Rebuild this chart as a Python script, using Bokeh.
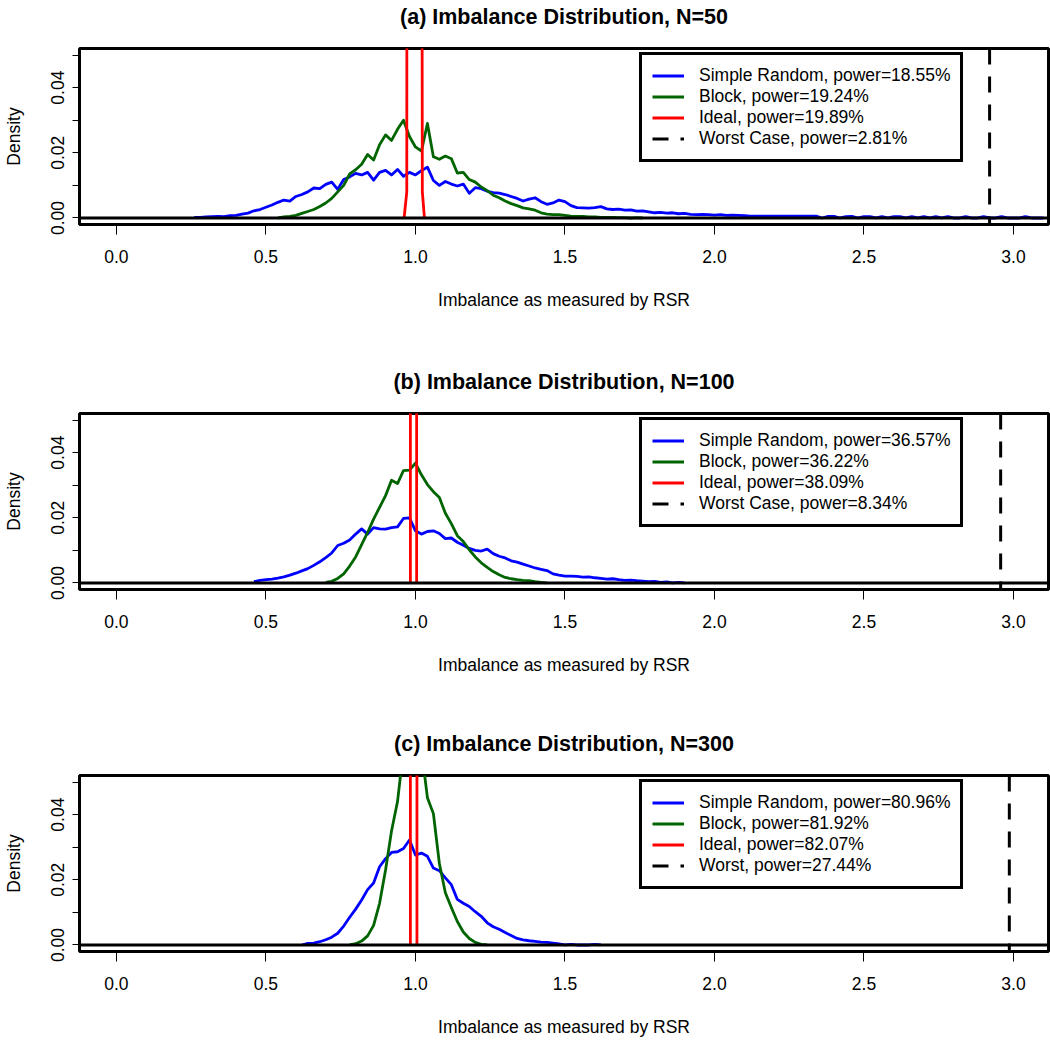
import numpy as np
from bokeh.plotting import figure
from bokeh.models import (Range1d, FixedTicker, NumeralTickFormatter, Span, Legend,
                          LegendItem, Title)
from bokeh.layouts import column
from bokeh.embed import file_html
from bokeh.resources import INLINE

FONT = "Liberation Sans"
BIN = 0.02  # histogram bin spacing of the read-off density curves

titles = ["(a) Imbalance Distribution, N=50",
          "(b) Imbalance Distribution, N=100",
          "(c) Imbalance Distribution, N=300"]
x_label = "Imbalance as measured by RSR"
y_label = "Density"
x_ticks = [0.0, 0.5, 1.0, 1.5, 2.0, 2.5, 3.0]
y_ticks = [0.00, 0.02, 0.04]
y_minor_ticks = [0.01, 0.03, 0.05]

# ---------------- panel (a) N=50 ----------------
a_random_start = 0.26
a_random = [0.0002, 0.0002, 0.0003, 0.0004, 0.0005, 0.0004, 0.0007, 0.0008, 0.0012, 0.0015,
            0.0022, 0.0026, 0.0033, 0.0040, 0.0048, 0.0055, 0.0052, 0.0066, 0.0072, 0.0080,
            0.0092, 0.0090, 0.0103, 0.0110, 0.0088, 0.0118, 0.0126, 0.0137, 0.0132, 0.0140,
            0.0116, 0.0140, 0.0146, 0.0132, 0.0149, 0.0128, 0.0140, 0.0132, 0.0145, 0.0156,
            0.0115, 0.0100, 0.0112, 0.0104, 0.0098, 0.0104, 0.0076, 0.0093, 0.0090, 0.0082,
            0.0078, 0.0076, 0.0072, 0.0066, 0.0060, 0.0052, 0.0058, 0.0062, 0.0050, 0.0042,
            0.0046, 0.0055, 0.0050, 0.0038, 0.0032, 0.0031, 0.0030, 0.0032, 0.0035, 0.0028,
            0.0026, 0.0027, 0.0024, 0.0025, 0.0021, 0.0022, 0.0019, 0.0016, 0.0017, 0.0015,
            0.0016, 0.0013, 0.0014, 0.0011, 0.0010, 0.0011, 0.0010, 0.0009, 0.0010, 0.0008,
            0.0009, 0.0008, 0.0007, 0.0006, 0.0006, 0.0006, 0.0006, 0.0006, 0.0006, 0.0006,
            0.0006, 0.0006, 0.0006, 0.0006, 0.0006, 0.0000, 0.0005, 0.0005, 0.0000, 0.0004,
            0.0005, 0.0000, 0.0004, 0.0004, 0.0000, 0.0004, 0.0000, 0.0004, 0.0004, 0.0000,
            0.0004, 0.0000, 0.0004, 0.0000, 0.0004, 0.0000, 0.0004, 0.0000, 0.0000, 0.0004,
            0.0000, 0.0000, 0.0004, 0.0000, 0.0000, 0.0004, 0.0000, 0.0000, 0.0000, 0.0004,
            0.0000, 0.0000, 0.0000]
a_block_start = 0.54
a_block = [0.0000, 0.0003, 0.0005, 0.0008, 0.0014, 0.0020, 0.0026, 0.0035, 0.0046, 0.0060,
           0.0080, 0.0100, 0.0135, 0.0148, 0.0165, 0.0195, 0.0178, 0.0225, 0.0255, 0.0238,
           0.0272, 0.0300, 0.0250, 0.0218, 0.0205, 0.0290, 0.0188, 0.0180, 0.0190, 0.0182,
           0.0138, 0.0140, 0.0118, 0.0110, 0.0095, 0.0084, 0.0070, 0.0062, 0.0052, 0.0044,
           0.0038, 0.0031, 0.0028, 0.0024, 0.0016, 0.0012, 0.0010, 0.0010, 0.0008, 0.0006,
           0.0005, 0.0005, 0.0003, 0.0003, 0.0002, 0.0002, 0.0002, 0.0001, 0.0001, 0.0000,
           0.0001, 0.0000]
a_ideal_x = [0.962, 0.971, 0.973, 1.017, 1.023, 1.030]
a_ideal_y = [0.0, 0.008, 0.40, 0.40, 0.008, 0.0]
a_worst = 2.92
a_labels = ["Simple Random, power=18.55%", "Block, power=19.24%",
            "Ideal, power=19.89%", "Worst Case, power=2.81%"]

# ---------------- panel (b) N=100 ----------------
b_random_start = 0.46
b_random = [0.0004, 0.0008, 0.0010, 0.0012, 0.0015, 0.0019, 0.0024, 0.0030, 0.0037, 0.0044,
            0.0054, 0.0065, 0.0078, 0.0092, 0.0115, 0.0122, 0.0132, 0.0150, 0.0166, 0.0150,
            0.0170, 0.0166, 0.0165, 0.0170, 0.0172, 0.0198, 0.0200, 0.0160, 0.0150, 0.0158,
            0.0160, 0.0152, 0.0136, 0.0138, 0.0125, 0.0116, 0.0106, 0.0100, 0.0098, 0.0104,
            0.0090, 0.0082, 0.0077, 0.0068, 0.0064, 0.0058, 0.0052, 0.0046, 0.0042, 0.0038,
            0.0028, 0.0024, 0.0021, 0.0021, 0.0020, 0.0018, 0.0019, 0.0016, 0.0014, 0.0012,
            0.0013, 0.0010, 0.0008, 0.0009, 0.0007, 0.0006, 0.0004, 0.0005, 0.0002, 0.0003,
            0.0000, 0.0002, 0.0000]
b_block_start = 0.70
b_block = [0.0002, 0.0005, 0.0014, 0.0028, 0.0052, 0.0080, 0.0118, 0.0155, 0.0196, 0.0232,
           0.0268, 0.0315, 0.0305, 0.0345, 0.0346, 0.0368, 0.0332, 0.0302, 0.0280, 0.0262,
           0.0214, 0.0182, 0.0145, 0.0127, 0.0102, 0.0080, 0.0062, 0.0048, 0.0035, 0.0025,
           0.0017, 0.0013, 0.0010, 0.0008, 0.0007, 0.0004, 0.0002, 0.0000]
b_ideal_x = [0.983, 0.983, 1.004, 1.004]
b_ideal_y = [0.0, 0.40, 0.40, 0.0]
b_worst = 2.957
b_labels = ["Simple Random, power=36.57%", "Block, power=36.22%",
            "Ideal, power=38.09%", "Worst Case, power=8.34%"]

# ---------------- panel (c) N=300 ----------------
c_random_start = 0.62
c_random = [0.0000, 0.0005, 0.0006, 0.0010, 0.0016, 0.0024, 0.0036, 0.0058, 0.0085, 0.0110,
            0.0138, 0.0170, 0.0190, 0.0240, 0.0265, 0.0284, 0.0286, 0.0296, 0.0322, 0.0276,
            0.0282, 0.0272, 0.0236, 0.0228, 0.0206, 0.0185, 0.0140, 0.0128, 0.0118, 0.0102,
            0.0088, 0.0068, 0.0056, 0.0048, 0.0038, 0.0029, 0.0020, 0.0016, 0.0013, 0.0011,
            0.0009, 0.0008, 0.0006, 0.0003, 0.0000, 0.0002, 0.0000, 0.0000, 0.0000, 0.0002,
            0.0000]
c_block_start = 0.78
c_block = [0.0000, 0.0004, 0.0012, 0.0028, 0.0060, 0.0128, 0.0230, 0.0350, 0.0440, 0.0600,
           0.0640, 0.0650, 0.0600, 0.0452, 0.0403, 0.0250, 0.0160, 0.0115, 0.0072, 0.0040,
           0.0020, 0.0008, 0.0002, 0.0000]
c_ideal_x = [0.983, 0.983, 1.005, 1.005]
c_ideal_y = [0.0, 0.40, 0.40, 0.0]
c_worst = 2.986
c_labels = ["Simple Random, power=80.96%", "Block, power=81.92%",
            "Ideal, power=82.07%", "Worst, power=27.44%"]

BLUE, GREEN, RED = "#0000FF", "#006400", "#FF0000"
WORST_DASH = "16 12"
TXT = "17.5px"


def grid(start, vals):
    return list(np.round(start + BIN * np.arange(len(vals)), 3))


def panel(title, r_start, r_vals, b_start, b_vals, ix, iy, worst, labels, height, bottom):
    p = figure(width=1050, height=height, output_backend="svg", toolbar_location=None,
               title=None,
               x_range=Range1d(-0.1235, 3.117), y_range=Range1d(-0.002, 0.052),
               min_border_left=77, min_border_right=2, min_border_top=48,
               min_border_bottom=bottom, background_fill_color="white",
               border_fill_color="white")
    p.xgrid.visible = False
    p.ygrid.visible = False
    p.outline_line_color = "black"
    p.outline_line_alpha = 1.0
    p.outline_line_width = 3

    # blank spacer between frame and title, then the title itself
    p.add_layout(Title(text=" ", text_font_size="10px", standoff=7), "above")
    p.add_layout(Title(text=title, align="center", text_font=FONT, text_font_size="21.5px",
                       text_font_style="bold", text_color="black", standoff=0), "above")

    xa = p.xaxis[0]
    xa.ticker = FixedTicker(ticks=x_ticks)
    xa.formatter = NumeralTickFormatter(format="0.0")
    xa.axis_line_color = None
    xa.major_tick_out = 10
    xa.major_tick_in = 0
    xa.major_tick_line_color = "black"
    xa.minor_tick_line_color = None
    xa.major_label_standoff = 15
    xa.major_label_text_font = FONT
    xa.major_label_text_font_size = TXT
    xa.major_label_text_color = "black"
    xa.axis_label = x_label
    xa.axis_label_text_font = FONT
    xa.axis_label_text_font_size = TXT
    xa.axis_label_text_font_style = "normal"
    xa.axis_label_text_color = "black"
    xa.axis_label_standoff = 24

    ya = p.yaxis[0]
    ya.ticker = FixedTicker(ticks=y_ticks, minor_ticks=y_minor_ticks)
    ya.formatter = NumeralTickFormatter(format="0.00")
    ya.axis_line_color = None
    ya.major_tick_out = 7
    ya.major_tick_in = 0
    ya.minor_tick_out = 7
    ya.minor_tick_in = 0
    ya.major_tick_line_color = "black"
    ya.minor_tick_line_color = "black"
    ya.major_label_orientation = "vertical"
    ya.major_label_standoff = 8
    ya.major_label_text_font = FONT
    ya.major_label_text_font_size = TXT
    ya.major_label_text_color = "black"
    ya.axis_label = y_label
    ya.axis_label_text_font = FONT
    ya.axis_label_text_font_size = TXT
    ya.axis_label_text_font_style = "normal"
    ya.axis_label_text_color = "black"
    ya.axis_label_standoff = 25

    rr = p.line(grid(r_start, r_vals), r_vals, line_color=BLUE, line_width=2.8, line_join="round")
    rb = p.line(grid(b_start, b_vals), b_vals, line_color=GREEN, line_width=2.8, line_join="round")
    ri = p.line(ix, iy, line_color=RED, line_width=2.8)

    p.add_layout(Span(location=0, dimension="width", line_color="black", line_width=3))
    p.add_layout(Span(location=worst, dimension="height", line_color="black",
                      line_width=3, line_dash=WORST_DASH))
    # legend-only renderer for the worst-case line (drawn by the Span above)
    rw = p.line(x=[worst, worst], y=[float("nan"), float("nan")], line_color="black",
                line_width=3, line_dash=WORST_DASH)

    leg = Legend(items=[LegendItem(label=labels[0], renderers=[rr]),
                        LegendItem(label=labels[1], renderers=[rb]),
                        LegendItem(label=labels[2], renderers=[ri]),
                        LegendItem(label=labels[3], renderers=[rw])],
                 location=(560, 62), orientation="vertical",
                 padding=10, spacing=0, margin=0,
                 label_height=21, glyph_height=21, glyph_width=32, label_standoff=15,
                 label_text_font=FONT, label_text_font_size=TXT, label_text_line_height=1.0,
                 label_text_color="black", label_text_baseline="middle",
                 border_line_color="black", border_line_alpha=1.0, border_line_width=3,
                 background_fill_color="white", background_fill_alpha=1.0)
    p.add_layout(leg)
    return p


pa = panel(titles[0], a_random_start, a_random, a_block_start, a_block,
           a_ideal_x, a_ideal_y, a_worst, a_labels, 365, 141)
pb = panel(titles[1], b_random_start, b_random, b_block_start, b_block,
           b_ideal_x, b_ideal_y, b_worst, b_labels, 362, 138)
pc = panel(titles[2], c_random_start, c_random, c_block_start, c_block,
           c_ideal_x, c_ideal_y, c_worst, c_labels, 313, 89)

layout = column(pa, pb, pc, spacing=0)
open("out.html", "w").write(file_html(layout, INLINE))
